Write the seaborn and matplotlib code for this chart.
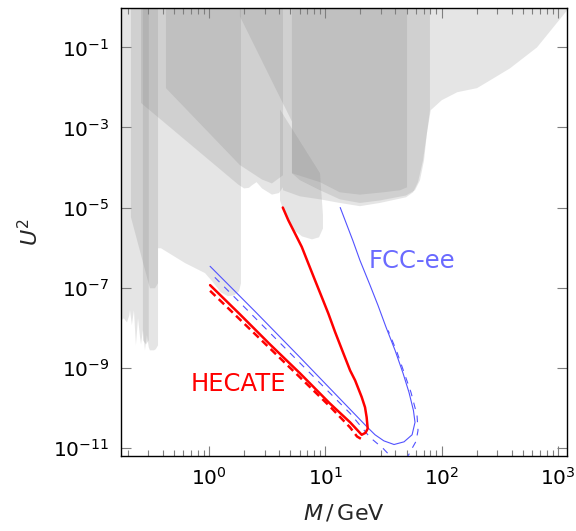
import matplotlib
matplotlib.use("Agg")
import matplotlib.pyplot as plt
import seaborn as sns
import numpy as np
from matplotlib.ticker import LogLocator, NullLocator, NullFormatter

sns.set_theme(style="ticks")
plt.rcParams["font.family"] = ["DejaVu Sans"]

# ---------------- excluded regions (M in GeV, U^2) ----------------
ps191_M = [0.174, 0.364, 0.364, 0.349, 0.336, 0.310, 0.303, 0.292, 0.281, 0.270,
           0.260, 0.255, 0.245, 0.235, 0.226, 0.217, 0.209, 0.206, 0.197, 0.185, 0.174]
ps191_U = [1, 1, 3.6e-9, 2.9e-9, 2.7e-9, 2.7e-9, 3.2e-9, 6.4e-9, 2.7e-9, 8.6e-9,
           3.8e-9, 5.7e-9, 1.7e-8, 3.6e-9, 2.7e-8, 1.15e-8, 2.7e-8, 2.0e-8, 1.35e-8, 1.7e-8, 1.5e-8]

strip_M = [0.213, 0.364, 0.364, 0.343, 0.310, 0.270, 0.213]
strip_U = [1, 1, 1.28e-7, 9.6e-8, 9.6e-8, 4.3e-7, 5.7e-6]

narrow_M = [0.270, 0.303, 0.303, 0.287, 0.270]
narrow_U = [1, 1, 4.8e-9, 3.8e-9, 4.8e-9]

charm_M = [0.364, 1.88, 1.88, 1.81, 1.64, 1.45, 1.26, 1.08, 0.922, 0.621, 0.386, 0.364]
charm_U = [1, 1, 1.28e-7, 8.1e-8, 6.4e-8, 6.1e-8, 7.6e-8, 1.36e-7, 2.3e-7, 4.1e-7, 9.6e-7, 9.6e-7]

band1_M = [0.260, 4.32, 4.32, 3.99, 3.47, 2.85, 2.56, 2.34, 2.20, 2.00, 1.77, 0.260]
band1_U = [1, 1, 3.2e-5, 2.3e-5, 2.1e-5, 3.0e-5, 4.3e-5, 3.6e-5, 3.1e-5, 3.0e-5, 3.8e-5, 4.1e-3]

band2_M = [0.426, 4.32, 4.32, 3.47, 2.85, 1.84, 0.426]
band2_U = [1, 1, 6.4e-5, 4.0e-5, 5.0e-5, 1.15e-4, 9.6e-3]

steep_M = [1.84, 5.16, 5.16, 1.84]
steep_U = [1, 1, 1.4e-3, 0.60]

lobe_M = [4.07, 4.07, 4.50, 5.16, 6.29, 7.67, 8.81, 9.53, 9.53, 8.99, 4.07]
lobe_U = [2.8e-3, 1.5e-5, 6.4e-6, 3.0e-6, 1.9e-6, 1.6e-6, 1.8e-6, 3.0e-6, 6.4e-6, 7.2e-5, 2.8e-3]

ew_M = [4.32, 1202, 1202, 659, 386, 260, 201, 136, 100, 80.4, 74.6, 69.0, 62.5, 56.7,
        49.3, 29.4, 19.8, 13.3, 8.99, 6.05, 4.32]
ew_U = [1, 1, 0.86, 0.10, 0.030, 0.015, 9.6e-3, 7.6e-3, 4.8e-3, 2.7e-3, 7.2e-4, 1.5e-4,
        4.3e-5, 2.4e-5, 1.8e-5, 1.3e-5, 1.08e-5, 1.3e-5, 1.6e-5, 1.9e-5, 2.7e-5]

wbox_M = [5.16, 79.2, 79.2, 74.6, 70.4, 65.0, 58.9, 49.3, 29.4, 19.8, 13.3, 8.99, 6.05, 5.16]
wbox_U = [1, 1, 2.7e-3, 7.2e-4, 1.5e-4, 4.8e-5, 2.7e-5, 2.0e-5, 1.5e-5, 1.3e-5, 1.6e-5, 2.7e-5, 4.8e-5, 7.2e-5]

zbox_M = [5.16, 50.3, 50.3, 43.8, 31.3, 19.8, 13.3, 8.99, 5.16]
zbox_U = [1, 1, 3.2e-5, 2.7e-5, 2.4e-5, 2.1e-5, 2.4e-5, 4.3e-5, 7.2e-5]

regions = [(ps191_M, ps191_U), (strip_M, strip_U), (narrow_M, narrow_U),
           (charm_M, charm_U), (band1_M, band1_U), (band2_M, band2_U),
           (steep_M, steep_U), (lobe_M, lobe_U), (ew_M, ew_U),
           (wbox_M, wbox_U), (zbox_M, zbox_U)]

# ---------------- sensitivity curves ----------------
hecate_M = [4.30, 4.80, 5.48, 6.26, 7.13, 8.14, 9.30, 10.6, 12.1, 14.3, 16.3, 18.0,
            20.5, 21.9, 22.6, 23.1, 22.1, 20.5, 16.3, 10.9, 6.05, 3.34, 1.84, 1.02]
hecate_U = [1e-5, 4.8e-6, 2.24e-6, 1.04e-6, 4.0e-7, 1.52e-7, 5.8e-8, 2.24e-8, 7.8e-9,
            2.24e-9, 8.5e-10, 4.8e-10, 1.84e-10, 1.02e-10, 5.8e-11, 3.0e-11, 2.35e-11,
            2.1e-11, 4.3e-11, 1.28e-10, 7.2e-10, 3.8e-9, 2.15e-8, 1.15e-7]

hecate_alt_M = [1.02, 2.25, 6.05, 10.9, 16.3, 18.7, 21.5]
hecate_alt_U = [8.3e-8, 9.1e-9, 5.7e-10, 1.08e-10, 3.2e-11, 1.9e-11, 1.5e-11]

fcc_M = [13.4, 17.2, 19.8, 24.2, 28.3, 33.2, 39.7, 46.5, 52.3, 57.1, 58.9, 55.6, 47.4,
         38.9, 31.8, 26.7, 22.8, 14.7, 6.05, 2.48, 1.02]
fcc_U = [1e-5, 1.5e-6, 4.8e-7, 1.14e-7, 3.6e-8, 1.02e-8, 2.7e-9, 7.2e-10, 2.4e-10, 8.5e-11,
         4.3e-11, 2.1e-11, 1.4e-11, 1.2e-11, 1.48e-11, 2.1e-11, 3.3e-11, 1.24e-10, 1.8e-9,
         2.55e-8, 3.4e-7]

fcc_alt_M = [1.12, 6.05, 16.3, 24.2, 31.3, 36.5, 43.8, 51.0, 56.0, 60.1, 62.5, 61.3,
             54.4, 41.3, 34.6]
fcc_alt_U = [1.8e-7, 1.3e-9, 7.2e-11, 1.8e-11, 9.6e-12, 6.0e-12, 4.8e-12, 6.0e-12,
             1.0e-11, 1.44e-11, 2.7e-11, 6.4e-11, 2.4e-10, 2.4e-9, 8.5e-9]

# ---------------- figure ----------------
fig = plt.figure(figsize=(5.76, 5.31), dpi=100)
ax = fig.add_axes([0.2096, 0.1418, 0.7753, 0.8426])
ax.set_xscale("log")
ax.set_yscale("log")

for M, U in regions:
    ax.fill(M, U, color="gray", alpha=0.2, lw=0, zorder=1)

red = "#ff0000"
blue = "#5252ff"

sns.lineplot(x=fcc_M, y=fcc_U, sort=False, estimator=None, ax=ax,
             color=blue, lw=0.8, zorder=3)
sns.lineplot(x=fcc_alt_M, y=fcc_alt_U, sort=False, estimator=None, ax=ax,
             color=blue, lw=0.8, zorder=3)
ax.lines[-1].set_dashes([6, 6])
sns.lineplot(x=hecate_M, y=hecate_U, sort=False, estimator=None, ax=ax,
             color=red, lw=1.8, zorder=4)
sns.lineplot(x=hecate_alt_M, y=hecate_alt_U, sort=False, estimator=None, ax=ax,
             color=red, lw=1.8, zorder=4)
ax.lines[-1].set_dashes([3, 1.8])

ax.text(1.79, 3.8e-10, "HECATE", color=red, fontsize=17.5, ha="center", va="center")
ax.text(55.6, 4.5e-7, "FCC-ee", color="#6a6aff", fontsize=17.5, ha="center", va="center")

ax.set_xlim(0.174, 1200)
ax.set_ylim(6.3e-12, 0.95)
ax.xaxis.set_major_locator(LogLocator(base=10, numticks=10))
ax.xaxis.set_minor_locator(LogLocator(base=10, subs=np.arange(2, 10), numticks=20))
ax.xaxis.set_minor_formatter(NullFormatter())
ax.set_yticks([1e-1, 1e-3, 1e-5, 1e-7, 1e-9, 1e-11])
ax.yaxis.set_minor_locator(NullLocator())

ax.tick_params(which="both", direction="in", top=True, right=True, color="#7f7f7f")
ax.tick_params(which="major", length=7, width=0.8, labelsize=14.5, pad=8, labelcolor="black")
ax.tick_params(which="minor", length=4.5, width=0.8)
for s in ax.spines.values():
    s.set_color("black")
    s.set_linewidth(1.0)

ax.set_xlabel(r"$M\,/\,\mathrm{GeV}$", fontsize=16, labelpad=10)
ax.set_ylabel(r"$U^2$", fontsize=16, labelpad=8)

fig.savefig("out.png", dpi=100)
